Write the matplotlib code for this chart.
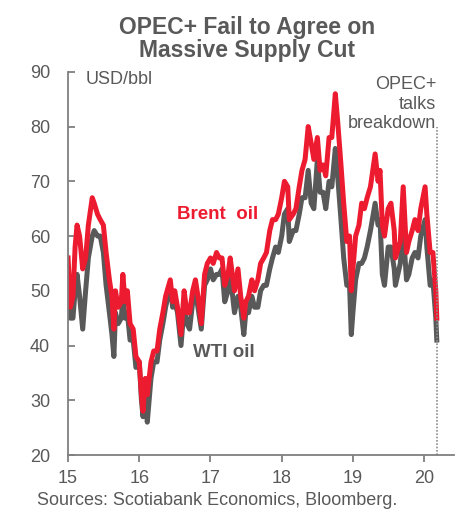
# %%
import matplotlib.pyplot as plt
import pandas as pd

# %%
# semi-monthly reads off the chart, plus a few extreme days
dates = [
    '2015-01-01', '2015-01-13', '2015-01-26', '2015-02-06', '2015-02-16', '2015-03-01', '2015-03-17',
    '2015-04-01', '2015-04-15', '2015-05-05', '2015-05-15', '2015-06-01', '2015-06-15', '2015-07-01',
    '2015-07-15', '2015-08-01', '2015-08-14', '2015-08-24', '2015-09-01', '2015-09-15', '2015-10-01',
    '2015-10-09', '2015-10-20', '2015-11-01', '2015-11-15', '2015-12-01', '2015-12-15',
    '2016-01-01', '2016-01-12', '2016-01-20', '2016-02-01', '2016-02-11', '2016-03-01', '2016-03-15',
    '2016-04-01', '2016-04-15', '2016-05-01', '2016-05-15', '2016-06-08', '2016-06-20', '2016-07-01',
    '2016-07-15', '2016-08-02', '2016-08-18', '2016-09-01', '2016-09-15', '2016-10-01', '2016-10-15',
    '2016-11-01', '2016-11-14', '2016-12-01', '2016-12-15',
    '2017-01-01', '2017-01-15', '2017-02-01', '2017-02-15', '2017-03-01', '2017-03-15', '2017-04-01',
    '2017-04-12', '2017-05-04', '2017-05-22', '2017-06-05', '2017-06-21', '2017-07-01', '2017-07-15',
    '2017-08-01', '2017-08-15', '2017-09-01', '2017-09-15', '2017-10-01', '2017-10-15', '2017-11-01',
    '2017-11-15', '2017-12-01', '2017-12-15',
    '2018-01-01', '2018-01-15', '2018-02-01', '2018-02-09', '2018-03-01', '2018-03-15', '2018-04-01',
    '2018-04-15', '2018-05-01', '2018-05-17', '2018-06-01', '2018-06-15', '2018-07-03', '2018-07-17',
    '2018-08-01', '2018-08-15', '2018-09-01', '2018-09-15', '2018-10-03', '2018-10-15', '2018-11-01',
    '2018-11-15', '2018-12-01', '2018-12-15', '2018-12-24',
    '2019-01-01', '2019-01-15', '2019-02-01', '2019-02-15', '2019-03-01', '2019-03-15', '2019-04-01',
    '2019-04-25', '2019-05-10', '2019-05-20', '2019-06-01', '2019-06-12', '2019-07-01', '2019-07-15',
    '2019-08-01', '2019-08-07', '2019-09-01', '2019-09-16', '2019-10-03', '2019-10-15', '2019-11-01',
    '2019-11-15', '2019-12-01', '2019-12-15',
    '2020-01-06', '2020-01-15', '2020-02-01', '2020-02-15', '2020-03-01', '2020-03-06',
]

brent = [
    56, 47, 49, 58, 62, 60, 54,
    56, 62, 67, 66, 64, 63, 62,
    57, 52, 49, 43, 50, 47, 48,
    53, 48, 50, 44, 43, 38,
    37, 31, 28, 34, 31, 37, 39,
    39, 43, 46, 49, 52, 48, 50,
    47, 42, 50, 46, 46, 50, 52,
    48, 44, 53, 55,
    56, 55, 57, 56, 56, 51, 53,
    56, 50, 54, 49, 45, 48, 49,
    52, 50, 52, 55, 56, 57, 61,
    63, 63, 64,
    67, 70, 69, 63, 64, 65, 69,
    72, 74, 80, 77, 74, 78, 72,
    73, 71, 78, 78, 86, 81, 73,
    66, 59, 60, 50,
    54, 60, 62, 66, 65, 67, 69,
    75, 70, 72, 62, 60, 65, 66,
    61, 56, 59, 69, 57, 59, 61,
    63, 61, 65,
    69, 64, 57, 57, 50, 45,
]

wti = [
    53, 45, 45, 50, 53, 49, 43,
    50, 56, 60, 61, 60, 60, 57,
    51, 46, 42, 38, 46, 44, 45,
    49, 45, 46, 41, 41, 36,
    37, 30, 27, 32, 26, 34, 37,
    37, 41, 44, 47, 51, 47, 48,
    46, 40, 47, 44, 43, 48, 50,
    46, 43, 51, 52,
    54, 52, 53, 53, 54, 48, 50,
    53, 46, 49, 47, 42, 46, 46,
    49, 47, 47, 50, 51, 51, 54,
    56, 58, 57,
    60, 64, 65, 59, 61, 61, 64,
    67, 67, 72, 66, 65, 74, 68,
    68, 65, 70, 69, 76, 71, 63,
    56, 51, 51, 42,
    46, 52, 55, 55, 56, 58, 61,
    66, 62, 63, 53, 51, 58, 58,
    54, 51, 55, 61, 52, 53, 56,
    57, 56, 60,
    63, 58, 51, 52, 45, 41,
]

break_date = '2020-03-06'
years = [15, 16, 17, 18, 19, 20]

# %%


def to_year(d):
    d = pd.to_datetime(d)
    return d.year - 2000 + (d.dayofyear - 1) / 365.25


grey = '#595959'
red = '#ED1B2F'
plt.rcParams['font.family'] = ['Liberation Sans', 'DejaVu Sans']

x = [to_year(d) for d in dates]

fig = plt.figure(figsize=(4.6, 5.13), dpi=100)
ax = fig.add_axes([0.148, 0.113, 0.839, 0.747])

ax.plot(x, wti, color=grey, lw=3.6, solid_joinstyle='round')
ax.plot(x, brent, color=red, lw=3.6, solid_joinstyle='round')

xb = to_year(break_date)
ax.plot([xb, xb], [20, 80], color='#8c8c8c', lw=1.2, ls=(0, (1, 1)))

ax.set_xlim(15, 20.42)
ax.set_ylim(20, 90)
ax.set_xticks(years)
ax.set_xticklabels([str(y) for y in years])
ax.set_yticks(range(20, 91, 10))

for s in ['top', 'right']:
    ax.spines[s].set_visible(False)
for s in ['left', 'bottom']:
    ax.spines[s].set_color('#7f7f7f')
    ax.spines[s].set_linewidth(1.3)
ax.tick_params(axis='y', direction='in', length=5, width=1.3, color='#7f7f7f',
               labelsize=13, labelcolor=grey, pad=13)
ax.tick_params(axis='x', direction='out', length=5, width=1.3, color='#7f7f7f',
               labelsize=13, labelcolor=grey, pad=6)

ax.text(15.24, 88.6, 'USD/bbl', fontsize=13, color=grey, va='center', ha='left')
ax.text(16.53, 63.9, 'Brent  oil', color=red, fontsize=13.5, fontweight='bold',
        va='center')
ax.text(16.76, 38.8, 'WTI oil', color=grey, fontsize=13.5, fontweight='bold',
        va='center')
ax.text(20.17, 89.2, 'OPEC+\ntalks\nbreakdown', color=grey, fontsize=13,
        ha='right', va='top', linespacing=1.2)

fig.text(0.538, 0.968, 'OPEC+ Fail to Agree on\nMassive Supply Cut', ha='center',
         va='top', fontsize=16.5, fontweight='bold', color=grey, linespacing=1.0)
fig.text(0.08, 0.025, 'Sources: Scotiabank Economics, Bloomberg.', fontsize=13,
         color=grey, ha='left', va='center')

plt.savefig('out.png', dpi=100)
